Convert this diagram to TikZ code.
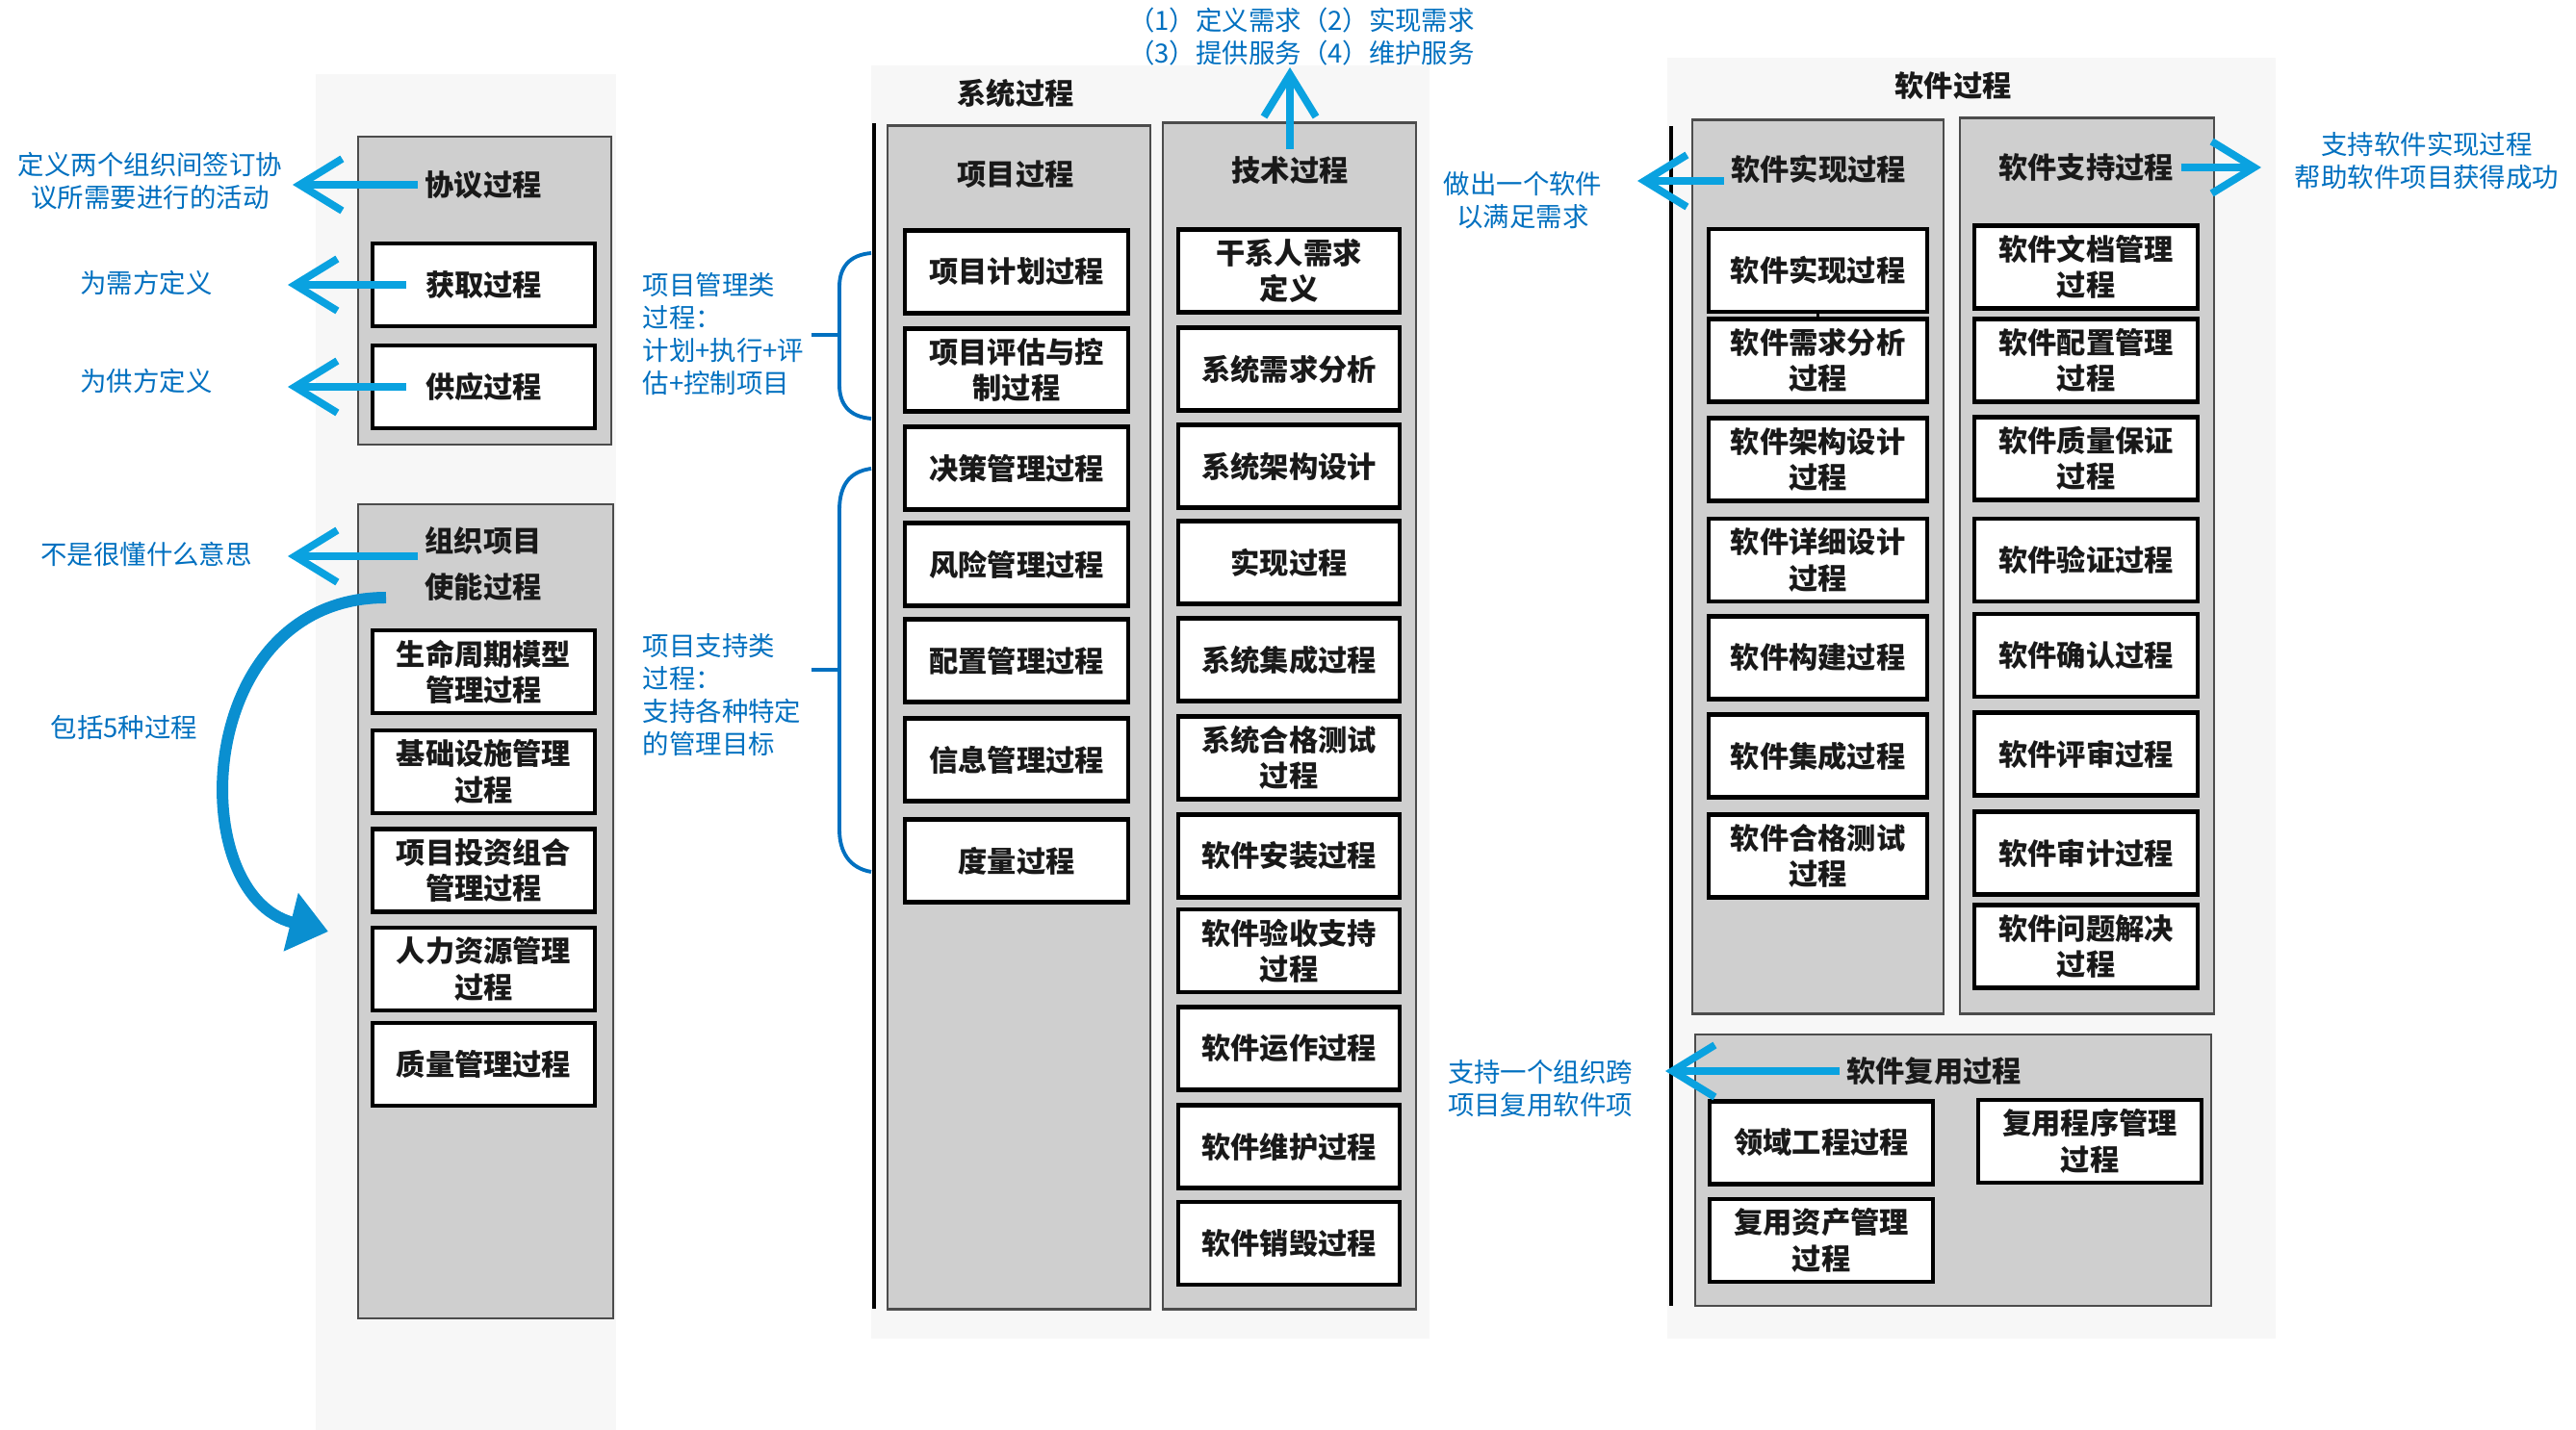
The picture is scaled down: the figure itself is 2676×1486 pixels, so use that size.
\documentclass[tikz,border=0pt]{standalone}
\usepackage{fontspec}
\newfontfamily\cjk{Noto Sans CJK SC}
\usetikzlibrary{arrows.meta,calc}
\definecolor{annblue}{HTML}{0070C0}
\definecolor{arrblue}{HTML}{0AA2E0}
\definecolor{curveblue}{HTML}{0A8FD0}
\definecolor{grpfill}{HTML}{CFCFCF}
\definecolor{paper}{HTML}{F7F7F7}

\begin{document}
\begin{tikzpicture}[x=0.01cm,y=-0.01cm,
  grp/.style={draw=black!70, line width=0.7pt, fill=grpfill, inner sep=0, outer sep=0},
  pbox/.style={draw=black, line width=1.2pt, fill=white, minimum height=0.86cm,
    inner sep=0, align=center, text=black!90,
    font=\cjk\bfseries\fontsize{8.6}{10.6}\selectfont},
  gtitle/.style={font=\cjk\bfseries\fontsize{8.6}{10.6}\selectfont, inner sep=2pt,
    text=black!90, align=center},
  note/.style={font=\cjk\fontsize{7.8}{9.7}\selectfont, text=annblue, align=center, inner sep=0},
  notel/.style={note, align=left},
  harrow/.style={draw=arrblue, line width=2.2pt,
    -{Straight Barb[length=0.44cm, width=0.54cm]}},
  curved/.style={draw=curveblue, line width=3.4pt,
    -{Triangle[length=0.40cm, width=0.60cm]}},
  brace/.style={draw=annblue, line width=1.1pt},
  rule/.style={draw=black, line width=0.9pt}
]
\useasboundingbox (0,0) rectangle (2676,1486);
\fill[white] (0,0) rectangle (2676,1486);

% faint paper behind the three columns
\fill[paper] (328,77) rectangle (640,1486);
\fill[paper] (905,68) rectangle (1485,1391);
\fill[paper] (1732,60) rectangle (2364,1391);

% ---------------- left column ----------------
\node[grp, minimum width=2.63cm, minimum height=3.20cm] (agrG) at (503.5,302) {};
\node[gtitle] (agrT) at (502,192) {协议过程};
\node[pbox, minimum width=2.31cm] (acq) at (502.5,296) {获取过程};
\node[pbox, minimum width=2.31cm] (sup) at (502.5,402) {供应过程};

\node[grp, minimum width=2.65cm, minimum height=8.46cm] (orgG) at (504.5,947) {};
\node[gtitle] (orgT) at (502,586) {组织项目\\[3pt]使能过程};
\node[pbox, minimum width=2.31cm] (lcm) at (502.5,698) {生命周期模型\\管理过程};
\node[pbox, minimum width=2.31cm] (inf) at (502.5,802) {基础设施管理\\过程};
\node[pbox, minimum width=2.31cm] (pfm) at (502.5,904.5) {项目投资组合\\管理过程};
\node[pbox, minimum width=2.31cm] (hrm) at (502.5,1007) {人力资源管理\\过程};
\node[pbox, minimum width=2.31cm] (qm) at (502.5,1106) {质量管理过程};

% notes on the left
\node[note] (nAgr) at (156,188) {定义两个组织间签订协\\议所需要进行的活动};
\node[note] (nAcq) at (152,294) {为需方定义};
\node[note] (nSup) at (152,396) {为供方定义};
\node[note] (nOrg) at (152,576) {不是很懂什么意思};
\node[note] (nFive) at (129,756) {包括5种过程};

\coordinate (tAgr) at (304,192);
\coordinate (tAcq) at (299,296);
\coordinate (tSup) at (299,402);
\coordinate (tOrg) at (299,578);
\draw[harrow] (agrT.west) -- (tAgr);
\draw[harrow] ($(acq.west)+(37,0)$) -- (tAcq);
\draw[harrow] ($(sup.west)+(37,0)$) -- (tSup);
\draw[harrow] ($(orgT.west)+(0,-8)$) -- (tOrg);

\coordinate (cStart) at (401,621);
\coordinate (cEnd) at (341,968);
\draw[curved] (cStart) .. controls (200,621) and (190,930) .. (cEnd);

% ---------------- system processes ----------------
\node[gtitle] (sysT) at (1055,97) {系统过程};
\draw[rule] (908,128) -- (908,1360);

\node[grp, minimum width=2.73cm, minimum height=12.29cm] (prjG) at (1058.5,745.5) {};
\node[gtitle] (prjT) at (1055,181) {项目过程};
\node[pbox, minimum width=2.32cm] (p1) at (1056,282.5) {项目计划过程};
\node[pbox, minimum width=2.32cm] (p2) at (1056,384.5) {项目评估与控\\制过程};
\node[pbox, minimum width=2.32cm] (p3) at (1056,486.5) {决策管理过程};
\node[pbox, minimum width=2.32cm] (p4) at (1056,586.5) {风险管理过程};
\node[pbox, minimum width=2.32cm] (p5) at (1056,686.5) {配置管理过程};
\node[pbox, minimum width=2.32cm] (p6) at (1056,789.5) {信息管理过程};
\node[pbox, minimum width=2.32cm] (p7) at (1056,894.5) {度量过程};

\node[grp, minimum width=2.63cm, minimum height=12.32cm] (tecG) at (1339.5,744) {};
\node[gtitle] (tecT) at (1340,177) {技术过程};
\node[pbox, minimum width=2.30cm] (t1) at (1339,281.5) {干系人需求\\定义};
\node[pbox, minimum width=2.30cm] (t2) at (1339,383.5) {系统需求分析};
\node[pbox, minimum width=2.30cm] (t3) at (1339,484.5) {系统架构设计};
\node[pbox, minimum width=2.30cm] (t4) at (1339,584.5) {实现过程};
\node[pbox, minimum width=2.30cm] (t5) at (1339,685.5) {系统集成过程};
\node[pbox, minimum width=2.30cm] (t6) at (1339,787.5) {系统合格测试\\过程};
\node[pbox, minimum width=2.30cm] (t7) at (1339,889.5) {软件安装过程};
\node[pbox, minimum width=2.30cm] (t8) at (1339,988) {软件验收支持\\过程};
\node[pbox, minimum width=2.30cm] (t9) at (1339,1089.5) {软件运作过程};
\node[pbox, minimum width=2.30cm] (t10) at (1339,1191.5) {软件维护过程};
\node[pbox, minimum width=2.30cm] (t11) at (1339,1292) {软件销毁过程};

% goals of the technical processes
\node[note] (nTec) at (1352,38) {（1）定义需求（2）实现需求\\（3）提供服务（4）维护服务};
\coordinate (tUp) at (1340,70);
\draw[harrow] (tecT.north) -- (tUp);

% braces grouping the project processes
\draw[brace] (905,263) .. controls (882,265) and (872,278) .. (872,298)
  -- (872,400) .. controls (872,420) and (882,433) .. (905,435);
\draw[brace] (872,348) -- (843,348);
\node[notel, anchor=west] (nMgmt) at (667,347) {项目管理类\\过程：\\计划+执行+评\\估+控制项目};

\draw[brace] (905,487) .. controls (882,490) and (872,505) .. (872,530)
  -- (872,862) .. controls (872,885) and (882,902) .. (905,906);
\draw[brace] (872,696) -- (843,696);
\node[notel, anchor=west] (nSupp) at (667,722) {项目支持类\\过程：\\支持各种特定\\的管理目标};

% ---------------- software processes ----------------
\node[gtitle] (swT) at (2029,89) {软件过程};
\draw[rule] (1736,131) -- (1736,1357);

\node[grp, minimum width=2.61cm, minimum height=9.28cm] (siG) at (1888.5,589) {};
\node[gtitle] (siT) at (1889,176) {软件实现过程};
\node[pbox, minimum width=2.27cm] (s1) at (1888.5,281) {软件实现过程};
\node[pbox, minimum width=2.27cm] (s2) at (1888.5,374.5) {软件需求分析\\过程};
\node[pbox, minimum width=2.27cm] (s3) at (1888.5,477.5) {软件架构设计\\过程};
\node[pbox, minimum width=2.27cm] (s4) at (1888.5,582) {软件详细设计\\过程};
\node[pbox, minimum width=2.27cm] (s5) at (1888.5,683.5) {软件构建过程};
\node[pbox, minimum width=2.27cm] (s6) at (1888.5,785.5) {软件集成过程};
\node[pbox, minimum width=2.27cm] (s7) at (1888.5,889.5) {软件合格测试\\过程};
\draw[line width=1pt] (s1.south) -- (s2.north);

\node[grp, minimum width=2.64cm, minimum height=9.30cm] (ssG) at (2168,588) {};
\node[gtitle] (ssT) at (2167,174) {软件支持过程};
\node[pbox, minimum width=2.32cm] (u1) at (2167,277.5) {软件文档管理\\过程};
\node[pbox, minimum width=2.32cm] (u2) at (2167,374.5) {软件配置管理\\过程};
\node[pbox, minimum width=2.32cm] (u3) at (2167,476.5) {软件质量保证\\过程};
\node[pbox, minimum width=2.32cm] (u4) at (2167,582) {软件验证过程};
\node[pbox, minimum width=2.32cm] (u5) at (2167,681) {软件确认过程};
\node[pbox, minimum width=2.32cm] (u6) at (2167,783.5) {软件评审过程};
\node[pbox, minimum width=2.32cm] (u7) at (2167,886.5) {软件审计过程};
\node[pbox, minimum width=2.32cm] (u8) at (2167,983.5) {软件问题解决\\过程};

\node[grp, minimum width=5.36cm, minimum height=2.82cm] (srG) at (2029,1216) {};
\node[gtitle] (srT) at (2009,1113) {软件复用过程};
\node[pbox, minimum width=2.32cm] (r1) at (1892,1187.5) {领域工程过程};
\node[pbox, minimum width=2.32cm] (r2) at (2171,1186) {复用程序管理\\过程};
\node[pbox, minimum width=2.32cm] (r3) at (1892,1289) {复用资产管理\\过程};

% notes on the software side
\node[note] (nSi) at (1582,208) {做出一个软件\\以满足需求};
\coordinate (tSi) at (1701,188);
\draw[harrow] ($(siT.west)+(0,12)$) -- (tSi);

\node[note] (nSs) at (2521,167) {支持软件实现过程\\帮助软件项目获得成功};
\coordinate (tSs) at (2349,174);
\draw[harrow] (ssT.east) -- (tSs);

\node[note] (nSr) at (1600,1131) {支持一个组织跨\\项目复用软件项};
\coordinate (tSr) at (1730,1113);
\draw[harrow] (srT.west) -- (tSr);

\end{tikzpicture}
\end{document}
